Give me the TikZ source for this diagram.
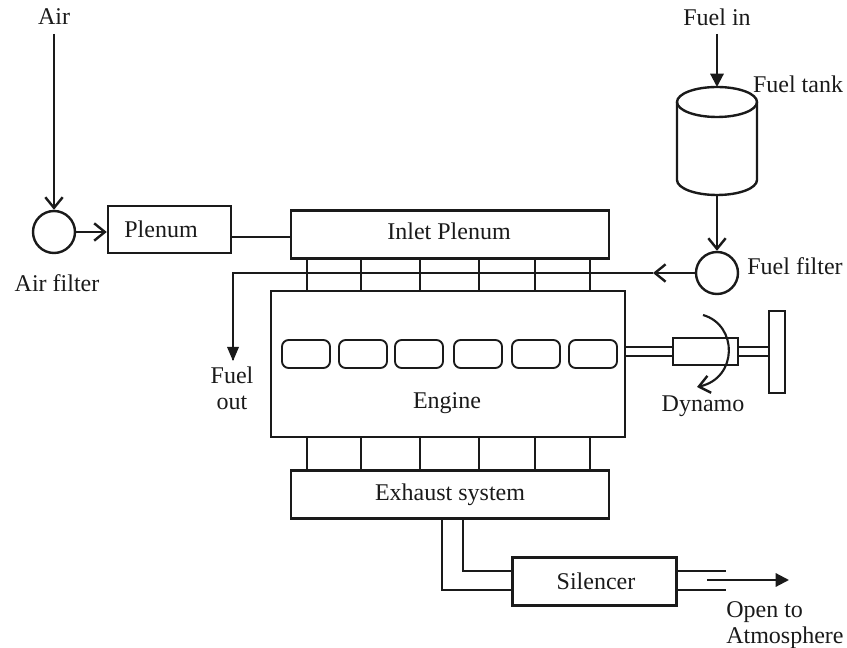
\documentclass[tikz,border=0pt]{standalone}
\usepackage{fontspec}
\setmainfont{Liberation Serif}
\usetikzlibrary{arrows.meta,calc}
\definecolor{ink}{HTML}{1A1A1A}
\tikzset{
  x=0.75pt,y=-0.75pt,
  every node/.style={font=\fontsize{18}{19.5}\selectfont,text=ink},
  thickbox/.style={draw=ink,line width=2.2pt,rectangle,inner sep=0pt},
  thinbox/.style={draw=ink,line width=1.6pt,rectangle,inner sep=0pt},
  cyl/.style={draw=ink,line width=1.4pt,rectangle,rounded corners=5pt,inner sep=0pt,minimum width=36pt,minimum height=21pt},
  filt/.style={draw=ink,line width=1.8pt,circle,inner sep=0pt,minimum size=31.5pt},
  conn/.style={draw=ink,line width=1.6pt},
  barb/.style={conn,-{Straight Barb[length=8pt,width=13pt,line width=1.8pt]}},
  solid tip/.style={conn,-{Triangle[length=10pt,width=10pt]}},
  lab/.style={inner sep=0pt,align=center},
}
\begin{document}
\begin{tikzpicture}
\useasboundingbox (0,0) rectangle (847,648);
% main boxes
\node[filt] (airf) at (54,232) {};
\node[thinbox,minimum width=92.5pt,minimum height=35.5pt] (plen) at (169.5,229.5) {};
\node[lab] (plent) at (161,229) {Plenum};
\node[thickbox,minimum width=238.5pt,minimum height=36.5pt] (inlet) at (450,234.5) {};
\node[lab] (inlett) at (449,231) {Inlet Plenum};
\node[thickbox,minimum width=265.5pt,minimum height=109.5pt] (eng) at (448,364) {};
\node[lab] (engt) at (447,403) {Engine};
\node[thickbox,minimum width=238.5pt,minimum height=36.5pt] (exh) at (450,494.5) {};
\node[lab] (exht) at (450,495) {Exhaust system};
\node[thickbox,minimum width=123.5pt,minimum height=36.5pt] (sil) at (594.5,581.5) {};
\node[lab] (silt) at (596,581) {Silencer};
\node[filt] (fuelf) at (717,273) {};
% cylinders
\foreach \n/\cx in {1/306,2/363,3/419,4/478,5/536,6/593}{
  \node[cyl] (c\n) at (\cx,354) {};
}
% ports
\foreach \n/\px in {1/307,2/361,3/420,4/479,5/535,6/590}{
  \coordinate (p\n) at (\px,250);
  \draw[conn] (inlet.south -| p\n) -- (eng.north -| p\n);
  \draw[conn] (eng.south -| p\n) -- (exh.north -| p\n);
}
% plenum links
\draw[barb] (airf.east) -- (plen.west |- airf.east);
\draw[conn] (plen.east |- 0,237) -- (inlet.west |- 0,237);
% air
\node[lab] (air) at (54,17) {Air};
\draw[barb] (air.south |- 0,34) -- (airf.north);
\node[lab] (airft) at (57,283) {Air filter};
% fuel tank
\coordinate (tl) at (677,102);
\coordinate (tr) at (757,102);
\coordinate (bl) at (677,180);
\coordinate (br) at (757,180);
\coordinate (ttop) at (717,87);
\coordinate (tbot) at (717,195);
\draw[draw=ink,line width=1.8pt] (717,102) ellipse [x radius=40,y radius=15];
\draw[draw=ink,line width=1.8pt] (tl) -- (bl) arc[start angle=180,end angle=360,x radius=40,y radius=-15] -- (tr);
\node[lab] (fin) at (717,17) {Fuel in};
\node[lab] (ftank) at (798,84) {Fuel tank};
\node[lab] (ffilt) at (795,266) {Fuel filter};
\draw[solid tip] (fin.south |- 0,34) -- (ttop);
\draw[barb] (tbot) -- (fuelf.north);
% fuel line
\coordinate (bend) at (233,273);
\coordinate (fo) at (233,360);
\coordinate (fa) at (653,273);
\draw[conn,line join=miter] (fa) -- (bend) -- (fo);
\draw[barb] (fuelf.west) -- (fa);
\fill[ink] (233,361) -- (227,347) -- (239,347) -- cycle;
\node[lab] (fout) at (232,388) {Fuel\\out};
% dynamo
\node[thinbox,minimum width=48.5pt,minimum height=20pt] (dyn) at (705.5,351.5) {};
\node[thinbox,minimum width=11.5pt,minimum height=61pt] (fly) at (777,352) {};
\foreach \y in {347,356}{
  \draw[conn] (eng.east |- 0,\y) -- (dyn.west |- 0,\y);
  \draw[conn] (dyn.east |- 0,\y) -- (fly.west |- 0,\y);
}
\coordinate (rs) at (703,315);
\coordinate (re) at (697,387);
\draw[barb] (rs) .. controls (738,325) and (738,378) .. (re);
\node[lab] (dynt) at (703,406) {Dynamo};
% exhaust pipes
\coordinate (o1) at (442,590);
\coordinate (o2) at (463,571);
\draw[conn] (exh.south -| o1) -- (o1) -- (sil.west |- o1);
\draw[conn] (exh.south -| o2) -- (o2) -- (sil.west |- o2);
\coordinate (e1) at (726,571);
\coordinate (e2) at (726,590);
\draw[conn] (sil.east |- e1) -- (e1);
\draw[conn] (sil.east |- e2) -- (e2);
\coordinate (as) at (707,580);
\coordinate (ae) at (789,580);
\draw[solid tip] (as) -- (ae);
\node[lab,anchor=west] (ot) at (726,612) {Open to};
\node[lab,anchor=west] (atm) at (726,638) {Atmosphere};
\end{tikzpicture}
\end{document}
